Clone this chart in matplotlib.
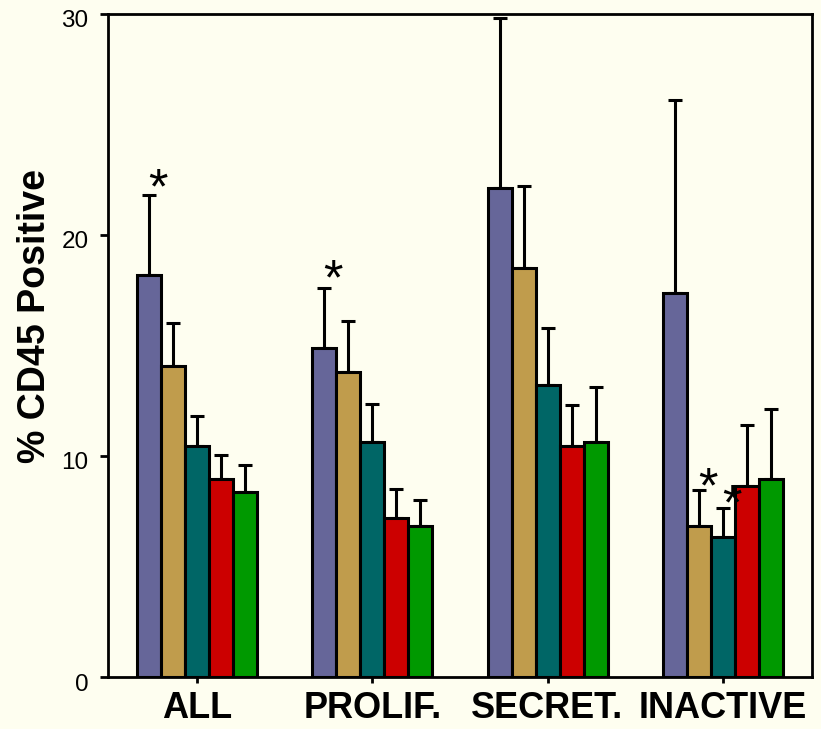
import matplotlib
matplotlib.use("Agg")
import matplotlib.pyplot as plt
import matplotlib.transforms as mtransforms
import numpy as np

categories = ["ALL", "PROLIF.", "SECRET.", "INACTIVE"]
series_colors = ["#666699", "#C09C4C", "#006666", "#CC0000", "#009900"]

# values per series (5 series) across 4 categories
means = [
    [18.2, 14.9, 22.1, 17.35],
    [14.05, 13.8, 18.5, 6.84],
    [10.47, 10.65, 13.2, 6.34],
    [8.97, 7.2, 10.47, 8.65],
    [8.38, 6.84, 10.65, 8.97],
]
err_upper = [
    [21.8, 17.6, 29.8, 26.1],
    [16.0, 16.1, 22.2, 8.47],
    [11.8, 12.37, 15.8, 7.66],
    [10.06, 8.5, 12.3, 11.4],
    [9.6, 8.0, 13.1, 12.14],
]
# significance stars: (category index, series index, star height)
stars_cat = [0, 1, 3, 3]
stars_ser = [0, 0, 1, 2]
stars_y = [22.0, 17.9, 8.5, 7.7]

yticks = [0, 10, 20, 30]

plt.rcParams['font.family'] = ['Liberation Sans', 'DejaVu Sans']
bg = "#FEFEF0"
fig = plt.figure(figsize=(8.21, 7.29), dpi=100, facecolor=bg)
ax = fig.add_axes([0.1315, 0.0713, 0.8575, 0.9097], facecolor=bg)

w = 0.137
x = np.arange(len(categories))
for i in range(5):
    xi = x + (i - 2) * w
    m = np.array(means[i])
    e = np.array(err_upper[i]) - m
    ax.errorbar(xi, m, yerr=[np.zeros_like(e), e], fmt='none', ecolor='black',
                elinewidth=2.2, capsize=5, capthick=2.2, zorder=1)
    ax.bar(xi, m, width=w, color=series_colors[i], edgecolor='black',
           linewidth=2.2, zorder=2)

for c, s, yv in zip(stars_cat, stars_ser, stars_y):
    ax.text(x[c] + (s - 2) * w + 0.05, yv, "*", ha='center', va='center',
            fontsize=36, color='black', zorder=3)

ax.set_xlim(-0.51, 3.51)
ax.set_ylim(0, 30)
ax.set_yticks(yticks)
ax.set_yticklabels([str(t) for t in yticks], fontsize=17.5)
ax.set_xticks(x)
ax.set_xticklabels(categories, fontsize=26, fontweight='bold')
ax.tick_params(axis='y', direction='out', length=6, width=2, pad=8)
ax.tick_params(axis='x', direction='out', length=4, width=2, pad=6)
shift = mtransforms.ScaledTranslation(0, -5 / 100, fig.dpi_scale_trans)
for lab in ax.get_yticklabels():
    lab.set_transform(lab.get_transform() + shift)
for sp in ax.spines.values():
    sp.set_linewidth(2)
ax.set_ylabel("% CD45 Positive", fontsize=27, fontweight='bold')
ax.yaxis.set_label_coords(-0.078, 0.545)

fig.savefig("out.png", dpi=100, facecolor=bg)
